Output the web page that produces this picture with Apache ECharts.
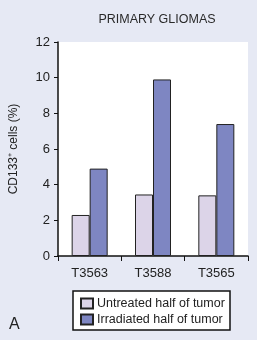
<!DOCTYPE html>
<html>
<head>
<meta charset="utf-8">
<script src="https://cdn.jsdelivr.net/npm/echarts@6/dist/echarts.min.js"></script>
<style>
html, body { margin: 0; padding: 0; background: #e6e9f4; }
#main { width: 257px; height: 340px; }
</style>
</head>
<body>
<div id="main"></div>
<script>
var categories = ['T3563', 'T3588', 'T3565'];
var untreated = [2.3, 3.45, 3.4];
var irradiated = [4.9, 9.9, 7.4];
var seriesNames = ['Untreated half of tumor', 'Irradiated half of tumor'];

var font = 'Liberation Sans, Arial, sans-serif';
var myChart = echarts.init(document.getElementById('main'));
var option = {
	backgroundColor: '#e6e9f4',
	title: {
		text: 'PRIMARY GLIOMAS',
		left: 152,
		top: 8,
		textAlign: 'center',
		textStyle: {fontFamily: font, fontSize: 12.5, fontWeight: 'normal', color: '#2a2a2a'}
	},
	graphic: [
		{
			type: 'rect',
			shape: {x: 73, y: 291, width: 157, height: 39},
			style: {fill: '#fff', stroke: '#111', lineWidth: 1.5},
			z: 0
		},
		{
			type: 'text',
			left: 9,
			top: 317,
			style: {text: 'A', fontFamily: font, fontSize: 16, fill: '#222'}
		}
	],
	legend: {
		data: seriesNames,
		orient: 'vertical',
		left: 80,
		top: 297,
		padding: 0,
		itemGap: 3,
		itemWidth: 12,
		itemHeight: 10,
		icon: 'rect',
		textStyle: {fontFamily: font, fontSize: 12.5, color: '#222', padding: [0, 0, 0, -1]},
		z: 5
	},
	grid: {
		left: 57,
		right: 9,
		top: 42,
		bottom: 84,
		show: true,
		backgroundColor: '#ffffff',
		borderWidth: 0
	},
	xAxis: {
		type: 'category',
		data: categories,
		axisLine: {lineStyle: {color: '#111', width: 1.5}},
		axisTick: {show: true, length: 5, lineStyle: {color: '#111', width: 1}},
		axisLabel: {fontFamily: font, fontSize: 13, color: '#222', margin: 11}
	},
	yAxis: {
		type: 'value',
		min: 0,
		max: 12,
		interval: 2,
		name: 'CD133⁺ cells (%)',
		nameLocation: 'middle',
		nameRotate: 90,
		nameGap: 38,
		nameTextStyle: {fontFamily: font, fontSize: 12, color: '#222'},
		axisLine: {show: true, lineStyle: {color: '#111', width: 1.5}},
		axisTick: {show: true, length: 4, lineStyle: {color: '#111'}},
		axisLabel: {fontFamily: font, fontSize: 13, color: '#222', margin: 8},
		splitLine: {show: false}
	},
	series: [
		{
			name: seriesNames[0],
			type: 'bar',
			data: untreated,
			barWidth: 18,
			barGap: '0%',
			itemStyle: {color: '#dcd4e8', borderColor: '#222', borderWidth: 1}
		},
		{
			name: seriesNames[1],
			type: 'bar',
			data: irradiated,
			barWidth: 18,
			barGap: '0%',
			itemStyle: {color: '#7e86c2', borderColor: '#222', borderWidth: 1}
		}
	]
};
myChart.setOption(option);
</script>
</body>
</html>
